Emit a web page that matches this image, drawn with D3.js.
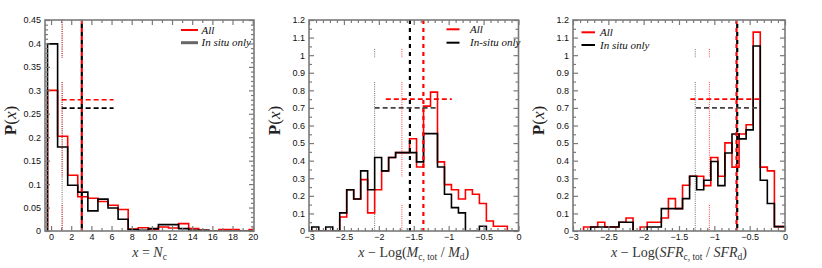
<!DOCTYPE html>
<html><head><meta charset="utf-8">
<script src="https://cdn.jsdelivr.net/npm/d3@7"></script>
<style>body{margin:0;background:#fff}svg{display:block}</style>
</head><body>
<svg id="c" width="822" height="268"></svg>
<script>
// ---------------- DATA ----------------
// Panel 1 : x = N_c
const ncBinStart = -0.35, ncBinWidth = 1;
const ncAll    = [0.300,0.202,0.119,0.073,0.070,0.063,0.055,0.046,0.004,0.007,0.003,0.0085,0.0065,0.0157,0.005,0.0015,0,0.003,0.003,0,0.003];
const ncInSitu = [0.399,0.179,0.0975,0.083,0.043,0.068,0.049,0.025,0.003,0.0015,0.005,0.0135,0.0135,0.005,0.0015,0.0015,0,0,0,0,0];
const ncXTicks = [0,2,4,6,8,10,12,14,16,18,20];
const ncXLabels = ["0","2","4","6","8","10","12","14","16","18","20"];
const ncYTicks = [0,0.05,0.1,0.15,0.2,0.25,0.3,0.35,0.4,0.45];
const ncYLabels = ["0","0.05","0.1","0.15","0.2","0.25","0.3","0.35","0.4","0.45"];
const ncMedianAll = 1.1, ncMedianInSitu = 1.1, ncMeanAll = 3.05, ncMeanInSitu = 3.05;
const ncRangeAll = [1.05, 6.2], ncRangeInSitu = [1.05, 6.2];
const ncRangeYAll = 0.28, ncRangeYInSitu = 0.262;

// Panel 2 : x = Log(M_c,tot / M_d)
const mBinStart = -2.96, mBinWidth = 0.1;
const mAll    = [0,0,0,0,0.08,0.235,0.182,0.292,0.103,0.235,0.342,0.418,0.446,0.446,0.525,0.364,0.71,0.79,0.393,0.264,0.235,0.182,0.235,0.209,0.156,0.057,0.027,0.027,0,0];
const mInSitu = [0.023,0,0.023,0,0.103,0.235,0.182,0.342,0.235,0.418,0.342,0.418,0.446,0.446,0.446,0.393,0.554,0.554,0.364,0.209,0.133,0.103,0,0,0.027,0,0,0,0,0];
const mMedianAll = -1.67, mMedianInSitu = -2.06, mMeanAll = -1.362, mMeanInSitu = -1.555;
const mRangeAll = [-1.9, -0.955], mRangeInSitu = [-2.06, -1.147];
const mRangeYAll = 0.75, mRangeYInSitu = 0.70;

// Panel 3 : x = Log(SFR_c,tot / SFR_d)
const sBinStart = -2.85, sBinWidth = 0.1;
const sAll    = [0.023,0.023,0.05,0.023,0.023,0.05,0.074,0,0.023,0.05,0.05,0.074,0.184,0.127,0.26,0.311,0.311,0.258,0.418,0.311,0.501,0.363,0.552,0.604,1.131,0.363,0.342,0.025,0.025];
const sInSitu = [0,0.023,0.023,0.023,0.023,0.05,0.05,0,0,0.023,0.023,0.127,0.127,0.127,0.184,0.311,0.235,0.289,0.395,0.258,0.444,0.552,0.524,0.575,1.052,0.289,0.156,0.025,0.025];
const sMedianAll = -1.07, sMedianInSitu = -1.27, sMeanAll = -0.686, sMeanInSitu = -0.676;
const sRangeAll = [-1.34, -0.36], sRangeInSitu = [-1.26, -0.36];
const sRangeYAll = 0.75, sRangeYInSitu = 0.70;

const logXTicks = [-3,-2.5,-2,-1.5,-1,-0.5,0];
const logXLabels = ["\u22123","\u22122.5","\u22122","\u22121.5","\u22121","\u22120.5","0"];
const logYTicks = [0,0.1,0.2,0.3,0.4,0.5,0.6,0.7,0.8,0.9,1,1.1,1.2];
const logYLabels = ["0","0.1","0.2","0.3","0.4","0.5","0.6","0.7","0.8","0.9","1","1.1","1.2"];

const legendLabels1 = ["All","In situ only"];
const legendLabels2 = ["All","In-situ only"];
const legendLabels3 = ["All","In situ only"];

// ---------------- LAYOUT / STYLE ----------------
const RED = "#ff0000", BLK = "#000000", AXC = "#7a7a7a";
const pTop = 20, pBottom = 231;
const panels = [
  {L:45, R:254, xDom:[-0.6,20.13], yDom:[0,0.45], xT:ncXTicks, xL:ncXLabels, xMinor:1, yT:ncYTicks, yL:ncYLabels, yMinor:0.01,
   bins:{start:ncBinStart,w:ncBinWidth,all:ncAll,ins:ncInSitu}, dotTop:pTop,
   dotted:[{x:ncMedianInSitu,c:"#555"},{x:ncMedianAll,c:RED,gap2:true}],
   dashed:[{x:ncMeanAll,c:RED,off:0},{x:ncMeanInSitu,c:BLK,off:4}], dashTop:0.45,
   hd:[{y:ncRangeYAll,r:ncRangeAll,c:RED},{y:ncRangeYInSitu,r:ncRangeInSitu,c:BLK}],
   leg:{x0:181,x1:198,tx:201.5,y1:30,y2:42.7,labels:legendLabels1,c2:"#666",w2:3},
   title:[{t:"x",i:1},{t:" = "},{t:"N",i:1},{t:"c",s:1}]},
  {L:309, R:518.5, xDom:[-3,0], yDom:[0,1.2], xT:logXTicks, xL:logXLabels, xMinor:0.1, yT:logYTicks, yL:logYLabels, yMinor:0.05,
   bins:{start:mBinStart,w:mBinWidth,all:mAll,ins:mInSitu}, dotTop:49,
   dotted:[{x:mMedianInSitu,c:"#555"},{x:mMedianAll,c:RED,gap2:true}],
   dashed:[{x:mMeanAll,c:RED,off:0},{x:mMeanInSitu,c:BLK,off:0}], dashTop:1.2,
   hd:[{y:mRangeYAll,r:mRangeAll,c:RED},{y:mRangeYInSitu,r:mRangeInSitu,c:"#444"}],
   leg:{x0:446.5,x1:459.5,tx:470,y1:29.3,y2:42.7,labels:legendLabels2,c2:BLK,w2:2},
   title:[{t:"x",i:1},{t:" \u2212 "},{t:"Log("},{t:"M",i:1},{t:"c, tot",s:1},{t:" / "},{t:"M",i:1},{t:"d",s:1},{t:")"}]},
  {L:573, R:785, xDom:[-3,0], yDom:[0,1.2], xT:logXTicks, xL:logXLabels, xMinor:0.1, yT:logYTicks, yL:logYLabels, yMinor:0.05,
   bins:{start:sBinStart,w:sBinWidth,all:sAll,ins:sInSitu}, dotTop:49,
   dotted:[{x:sMedianInSitu,c:"#555"},{x:sMedianAll,c:RED,gap2:true}],
   dashed:[{x:sMeanAll,c:RED,off:0},{x:sMeanInSitu,c:BLK,off:4}], dashTop:1.2,
   hd:[{y:sRangeYAll,r:sRangeAll,c:RED},{y:sRangeYInSitu,r:sRangeInSitu,c:"#444"}],
   leg:{x0:581.5,x1:595,tx:600,y1:32.3,y2:45,labels:legendLabels3,c2:BLK,w2:2},
   title:[{t:"x",i:1},{t:" \u2212 "},{t:"Log("},{t:"SFR",i:1},{t:"c, tot",s:1},{t:" / "},{t:"SFR",i:1},{t:"d",s:1},{t:")"}]}
];

const svg = d3.select("#c");
const SERIF = "'Liberation Serif','DejaVu Serif',serif";
const SANS = "'Liberation Sans','DejaVu Sans',sans-serif";

function seq(a,b,s){const out=[];const n=Math.round((b-a)/s);for(let i=0;i<=n;i++)out.push(+(a+i*s).toFixed(6));return out;}

panels.forEach((p,pi)=>{
  const x = d3.scaleLinear().domain(p.xDom).range([p.L,p.R]);
  const y = d3.scaleLinear().domain(p.yDom).range([pBottom,pTop]);
  const g = svg.append("g");
  const cid = "clip"+pi;
  svg.append("clipPath").attr("id",cid).append("rect").attr("x",p.L).attr("y",pTop).attr("width",p.R-p.L).attr("height",pBottom-pTop);
  const pg = g.append("g").attr("clip-path",`url(#${cid})`);

  // dotted median lines (with the reference's gaps)
  p.dotted.forEach(d=>{
    const segs = d.gap2 ? [[p.dotTop,58],[82,177],[205,pBottom]] : [[p.dotTop,58],[82,pBottom]];
    segs.forEach(s=>{
      pg.append("line").attr("x1",x(d.x)).attr("x2",x(d.x)).attr("y1",s[0]).attr("y2",s[1])
        .attr("stroke",d.c).attr("stroke-width",1).attr("stroke-dasharray","1,1.2").attr("opacity",d.c===RED?0.75:0.85);
    });
  });

  // histograms
  const line = d3.line().x(d=>x(d[0])).y(d=>y(d[1]));
  function stepPts(b,vals){
    const pts=[[b.start,0]];
    vals.forEach((v,k)=>{pts.push([b.start+k*b.w,v]);pts.push([b.start+(k+1)*b.w,v]);});
    pts.push([b.start+vals.length*b.w,0]);
    return pts;
  }
  pg.append("path").attr("d",line(stepPts(p.bins,p.bins.all))).attr("fill","none").attr("stroke",RED).attr("stroke-width",1.6);
  pg.append("path").attr("d",line(stepPts(p.bins,p.bins.ins))).attr("fill","none").attr("stroke",BLK).attr("stroke-width",1.6);

  // thick dashed vertical lines
  p.dashed.forEach(d=>{
    pg.append("line").attr("x1",x(d.x)).attr("x2",x(d.x)).attr("y1",y(p.dashTop)).attr("y2",pBottom)
      .attr("stroke",d.c).attr("stroke-width",2.2).attr("stroke-dasharray","4,4").attr("stroke-dashoffset",d.off);
  });
  // horizontal dashed ranges
  p.hd.forEach(d=>{
    pg.append("line").attr("x1",x(d.r[0])).attr("x2",x(d.r[1])).attr("y1",y(d.y)).attr("y2",y(d.y))
      .attr("stroke",d.c).attr("stroke-width",1.6).attr("stroke-dasharray","5,3");
  });

  // axes (ticks inward on all sides)
  const xMinorT = seq(p.xT[0], p.xT[p.xT.length-1], p.xMinor).filter(v=>!p.xT.some(t=>Math.abs(t-v)<1e-9));
  const yMinorT = seq(p.yT[0], p.yT[p.yT.length-1], p.yMinor).filter(v=>!p.yT.some(t=>Math.abs(t-v)<1e-9));
  const xFmt = v=>p.xL[p.xT.findIndex(t=>Math.abs(t-v)<1e-9)];
  const yFmt = v=>p.yL[p.yT.findIndex(t=>Math.abs(t-v)<1e-9)];

  g.append("g").attr("transform",`translate(0,${pBottom})`).call(d3.axisBottom(x).tickValues(p.xT).tickFormat(xFmt).tickSize(-5).tickPadding(3));
  g.append("g").attr("transform",`translate(0,${pBottom})`).call(d3.axisBottom(x).tickValues(xMinorT).tickFormat("").tickSize(-3));
  g.append("g").attr("transform",`translate(0,${pTop})`).call(d3.axisTop(x).tickValues(p.xT).tickFormat("").tickSize(-5));
  g.append("g").attr("transform",`translate(0,${pTop})`).call(d3.axisTop(x).tickValues(xMinorT).tickFormat("").tickSize(-3));
  g.append("g").attr("transform",`translate(${p.L},0)`).call(d3.axisLeft(y).tickValues(p.yT).tickFormat(yFmt).tickSize(-5).tickPadding(4));
  g.append("g").attr("transform",`translate(${p.L},0)`).call(d3.axisLeft(y).tickValues(yMinorT).tickFormat("").tickSize(-3));
  g.append("g").attr("transform",`translate(${p.R},0)`).call(d3.axisRight(y).tickValues(p.yT).tickFormat("").tickSize(-5));
  g.append("g").attr("transform",`translate(${p.R},0)`).call(d3.axisRight(y).tickValues(yMinorT).tickFormat("").tickSize(-3));
  g.selectAll(".domain").remove();
  g.selectAll(".tick line").attr("stroke",AXC).attr("stroke-width",1.2);
  g.selectAll(".tick text").attr("font-family",SANS).attr("font-size",9).attr("fill","#111");
  g.append("rect").attr("x",p.L).attr("y",pTop).attr("width",p.R-p.L).attr("height",pBottom-pTop)
    .attr("fill","none").attr("stroke",AXC).attr("stroke-width",1.6);

  // legend
  const lg = p.leg;
  g.append("line").attr("x1",lg.x0).attr("x2",lg.x1).attr("y1",lg.y1).attr("y2",lg.y1).attr("stroke",RED).attr("stroke-width",2);
  g.append("line").attr("x1",lg.x0).attr("x2",lg.x1).attr("y1",lg.y2).attr("y2",lg.y2).attr("stroke",lg.c2).attr("stroke-width",lg.w2);
  [lg.y1,lg.y2].forEach((yy,i)=>{
    g.append("text").attr("x",lg.tx).attr("y",yy+3.5).text(lg.labels[i])
      .attr("font-family",SERIF).attr("font-style","italic").attr("font-size",11).attr("fill","#111");
  });

  // x title
  const tt = g.append("text").attr("x",(p.L+p.R)/2).attr("y",256.5).attr("text-anchor","middle")
    .attr("font-family",SERIF).attr("font-size",14).attr("fill","#333");
  let wasSub=false;
  p.title.forEach(part=>{
    const ts = tt.append("tspan").text(part.t);
    if(part.i) ts.attr("font-style","italic");
    if(part.s){ts.attr("font-size",9.5).attr("dy",3); wasSub=true;}
    else if(wasSub){ts.attr("dy",-3); wasSub=false;}
  });

  // y title
  const yt = g.append("text").attr("transform",`translate(${p.L-29},${(pTop+pBottom)/2-5}) rotate(-90)`)
    .attr("text-anchor","middle").attr("font-family",SERIF).attr("font-size",17).attr("fill","#222");
  yt.append("tspan").text("P").attr("font-weight","bold");
  yt.append("tspan").text("(");
  yt.append("tspan").text("x").attr("font-style","italic");
  yt.append("tspan").text(")");
});
</script>
</body></html>
